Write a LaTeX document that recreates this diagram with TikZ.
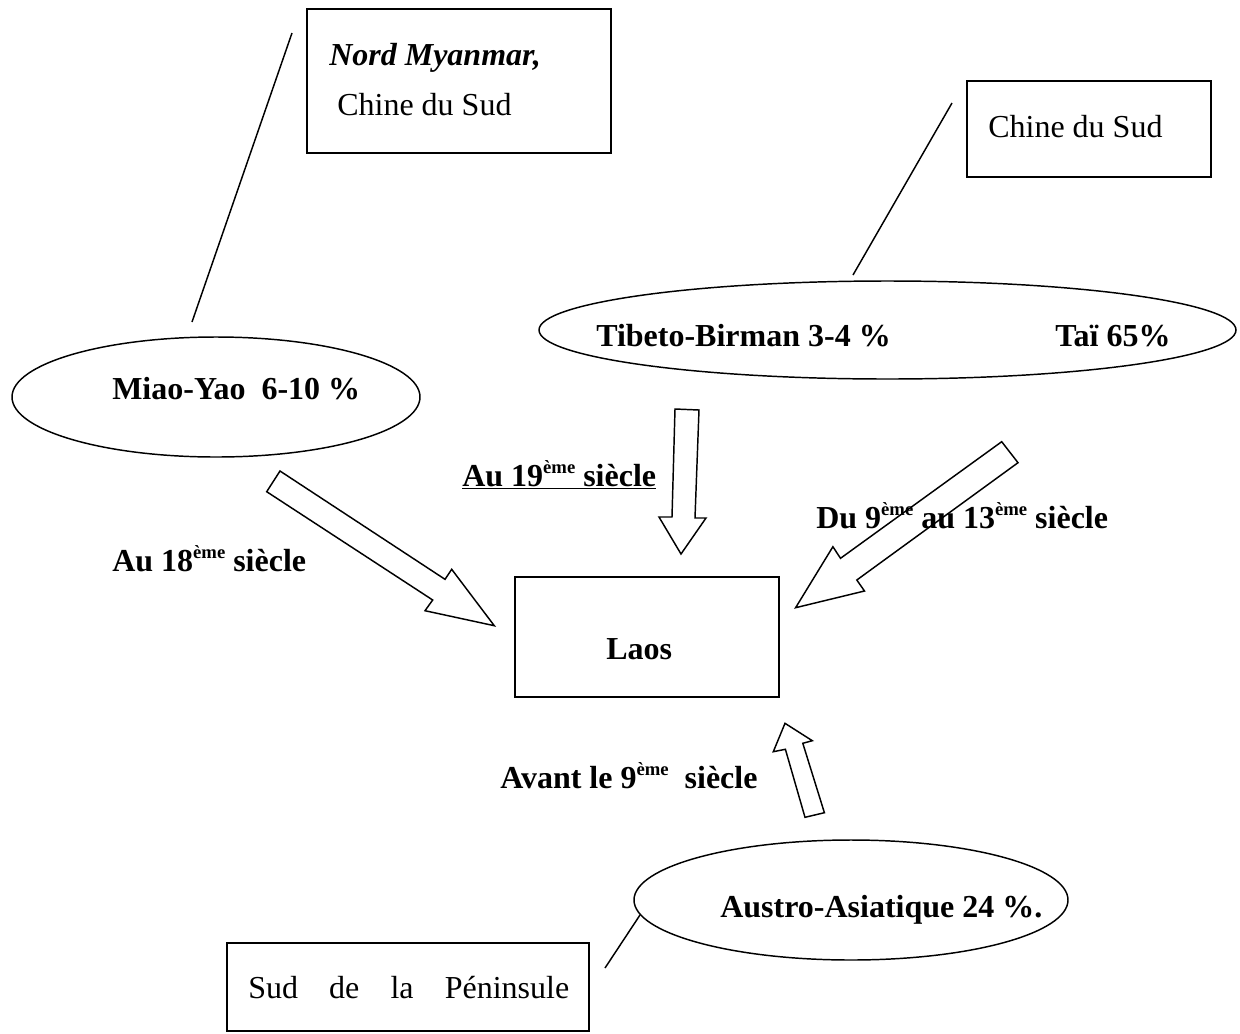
\documentclass[tikz,border=0pt]{standalone}
\usepackage{fontspec}
\setmainfont{Liberation Serif}
\usetikzlibrary{shapes.geometric}
\newcommand\eme{\raisebox{0.4em}{\fontsize{14}{14}\selectfont ème}}
\begin{document}
\begin{tikzpicture}[x=0.75pt,y=-0.75pt,
  box/.style={draw, rectangle, line width=1.1pt, inner sep=0pt},
  oval/.style={draw, ellipse, line width=1.1pt, inner sep=0pt},
  txt/.style={anchor=base west, inner sep=0pt, font=\fontsize{24}{28}\selectfont},
  btxt/.style={anchor=base west, inner sep=0pt, font=\fontsize{24}{28}\selectfont\bfseries},
  link/.style={line width=1.1pt},
  blockarrow/.style={draw, line width=1.1pt, line join=miter}]
\fill[white] (0,0) rectangle (1240,1033);
\useasboundingbox (0,0) rectangle (1240,1033);

% boxes
\node[box, minimum width=228pt, minimum height=108pt] (nm) at (459,81) {};
\node[box, minimum width=183pt, minimum height=72pt] (cds) at (1089,129) {};
\node[box, minimum width=198pt, minimum height=90pt] (laos) at (647,637) {};
\node[box, minimum width=271.5pt, minimum height=66pt] (sud) at (408,987) {};

% ellipses
\node[oval, minimum width=306pt, minimum height=90pt] (miao) at (216,397) {};
\node[oval, minimum width=522.75pt, minimum height=73.5pt] (tai) at (887.5,330) {};
\node[oval, minimum width=325.5pt, minimum height=90pt] (aa) at (851,900) {};

% texts
\node[btxt, font=\fontsize{24}{28}\selectfont\bfseries\itshape] (nmt) at (329,65) {Nord Myanmar,};
\node[txt] (nmt2) at (337,115) {Chine du Sud};
\node[txt] (cdst) at (988,137) {Chine du Sud};
\node[btxt] (miaot) at (112,399) {Miao-Yao~~6-10~\%};
\node[btxt] (tbt) at (596,346) {Tibeto-Birman 3-4~\%};
\node[btxt] (tait) at (1055,346) {Taï 65\%};
\node[btxt] (laost) at (606,659) {Laos};
\node[btxt] (aat) at (720,917) {Austro-Asiatique 24~\%.};
\node[txt] (sudt) at (248,998) {\hbox to 240.75pt{Sud\hfill de\hfill la\hfill Péninsule}};
\node[btxt] (l19) at (462,486) {\underline{Au 19\eme\ siècle}};
\node[btxt] (l18) at (112,571) {Au 18\eme\ siècle};
\node[btxt] (l913) at (816,528) {Du 9\eme\ au 13\eme\ siècle};
\node[btxt] (lav) at (500,788) {Avant le 9\eme\hspace{12pt}siècle};

% connector lines
\coordinate (c1a) at (292,33);
\coordinate (c1b) at (192,322);
\coordinate (c2a) at (952,103);
\coordinate (c2b) at (853,275);
\coordinate (c3a) at (640,915);
\coordinate (c3b) at (605,968);
\draw[link] (c1a) -- (c1b);
\draw[link] (c2a) -- (c2b);
\draw[link] (c3a) -- (c3b);

% block arrows (outline only)
\draw[blockarrow] (280,471) -- (445,579.3) -- (451.7,569.3) -- (494.3,625.7)
  -- (425,610.7) -- (432.7,600) -- (266.7,491.7) -- cycle;
\draw[blockarrow] (675,409) -- (699,410) -- (695,518) -- (706,518) -- (681,554)
  -- (659,517) -- (672,517) -- cycle;
\draw[blockarrow] (1001.7,441.7) -- (1018,462.7) -- (856.8,580) -- (864.5,591)
  -- (795.6,607.7) -- (832.9,546.7) -- (840.5,558.3) -- cycle;
\draw[blockarrow] (785,723.3) -- (812.3,740.7) -- (802.8,743.3) -- (824.4,812.7)
  -- (805,817.3) -- (785.4,749.3) -- (773.3,751.7) -- cycle;
\end{tikzpicture}
\end{document}
